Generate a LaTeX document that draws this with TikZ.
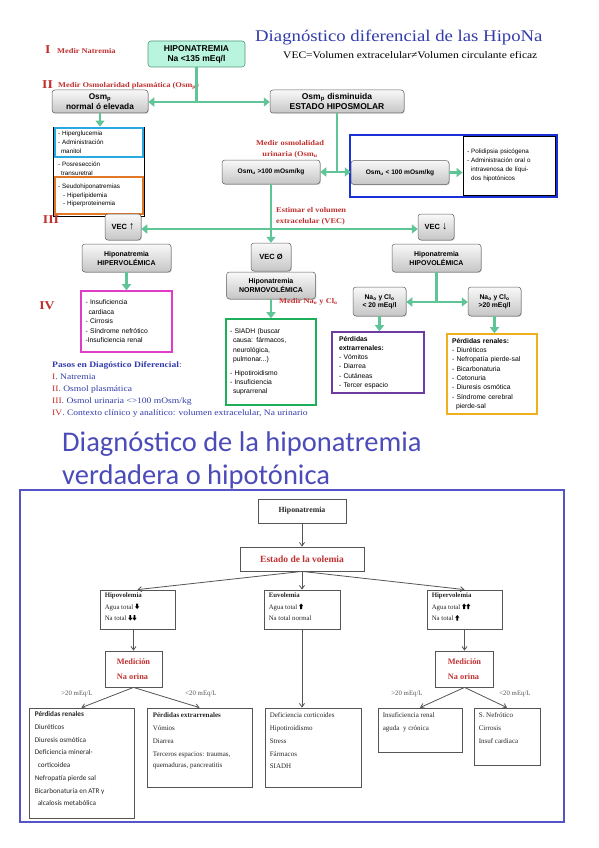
\documentclass[tikz,border=0pt]{standalone}
\usepackage{fontspec}
\setmainfont{Liberation Serif}
\setsansfont{Liberation Sans}
\newfontfamily\wser[FakeStretch=1.15]{Liberation Serif}
\newfontfamily\calib{Carlito}
\usetikzlibrary{arrows.meta,calc,shadows}
\definecolor{grn}{RGB}{95,196,150}
\definecolor{mint}{RGB}{185,245,222}
\definecolor{redc}{RGB}{192,48,48}
\definecolor{bluet}{RGB}{50,60,170}
\definecolor{cyanb}{RGB}{40,170,225}
\definecolor{orng}{RGB}{225,120,40}
\definecolor{magb}{RGB}{225,60,200}
\definecolor{grnb}{RGB}{30,175,90}
\definecolor{purb}{RGB}{110,60,160}
\definecolor{goldb}{RGB}{240,175,30}
\definecolor{blueb}{RGB}{25,50,215}
\definecolor{frameb}{RGB}{85,85,200}
\definecolor{titb}{RGB}{75,75,185}
\definecolor{darkg}{RGB}{85,85,85}
\newcommand{\fs}[2]{\fontsize{#1}{#2}\selectfont}
\newcommand{\dnar}{\tikz[baseline=0pt,x=1pt,y=1pt]\fill[black] (1.2,5.5)--(3.0,5.5)--(3.0,2.6)--(4.2,2.6)--(2.1,0)--(0,2.6)--(1.2,2.6)--cycle;}
\newcommand{\upar}{\tikz[baseline=0pt,x=1pt,y=1pt]\fill[black] (1.2,0)--(3.0,0)--(3.0,2.9)--(4.2,2.9)--(2.1,5.5)--(0,2.9)--(1.2,2.9)--cycle;}
\newcommand{\bigarr}[1]{{\fs{10.5}{10}\raisebox{-0.5pt}{#1}}}
\begin{document}
\begin{tikzpicture}[x=1pt,y=-1pt,
  gbox/.style={rectangle, rounded corners=3pt, draw=gray!75!black, line width=0.5pt, top color=gray!5, bottom color=gray!45, drop shadow={shadow xshift=0.9pt, shadow yshift=-0.9pt, opacity=0.3}, font=\sffamily\bfseries\fs{7.5}{9}, align=center, inner sep=0pt},
  garr/.style={draw=grn, line width=2.8pt, -{Triangle[length=6pt,width=9pt]}},
  gln/.style={draw=grn, line width=2.8pt},
  rtxt/.style={text=redc, font=\wser\bfseries\fs{7.3}{10.5}, inner sep=0pt},
  rnum/.style={text=redc, font=\wser\bfseries\fs{12}{12}, inner sep=0pt},
  cbox/.style={rectangle, line width=1.6pt, inner sep=0pt},
  ltxt/.style={font=\sffamily\fs{6.3}{8.8}, align=left, inner sep=0pt},
  wbox/.style={rectangle, draw=darkg, line width=0.8pt, fill=white, inner sep=0pt},
  btxt/.style={font=\fs{6.8}{11.5}, align=left, inner sep=0pt, text=black!85},
  barr/.style={draw=darkg, line width=0.8pt, -{Straight Barb[length=3.5pt,width=5pt]}},
  lbl/.style={font=\fs{6.8}{8}, text=darkg, inner sep=0pt}
]
\useasboundingbox (0,0) rectangle (599,848);
\fill[white] (0,0) rectangle (599,848);

% ---------------- top part ----------------
\node[rnum, anchor=west] (nI) at (45,50) {I};
\node[rtxt, anchor=west] (tI) at (57,51) {Medir Natremia};
\node[rectangle, rounded corners=3pt, draw=grn!80!black, line width=0.6pt, fill=mint, font=\sffamily\bfseries\fs{8.5}{10}, align=center, minimum width=97pt, minimum height=26pt, inner sep=0pt] (hipo) at (196.5,54) {HIPONATREMIA\\Na <135 mEq/l};
\node[anchor=west, text=bluet, font=\wser\fs{16.3}{18}, inner sep=0pt] (tit1) at (255,38) {Diagnóstico diferencial de las HipoNa};
\node[anchor=west, font=\wser\fs{10}{12}, inner sep=0pt] (vecdef) at (283,55) {VEC=Volumen extracelular≠Volumen circulante eficaz};

\node[rnum, anchor=west] (nII) at (42,85) {II};
\node[rtxt, anchor=west] (tII) at (58,86) {Medir Osmolaridad plasmática (Osm\textsubscript{p})};
\node[gbox, font=\sffamily\bfseries\fs{8.3}{9.5}, minimum width=96pt, minimum height=23pt] (osmn) at (100,101.5) {Osm\textsubscript{p}\\normal ó elevada};
\node[gbox, font=\sffamily\bfseries\fs{8.5}{9.5}, minimum width=134pt, minimum height=23pt] (osmd) at (337,101.5) {Osm\textsubscript{p} disminuida\\ESTADO HIPOSMOLAR};
\coordinate (j1) at (196.5,102);
\draw[gln] (hipo.south) -- (j1);
\draw[garr] (j1) -- (osmn.east |- j1);
\draw[garr] (j1) -- (osmd.west |- j1);

% list box
\node[rectangle, draw=black, line width=0.8pt, minimum width=91pt, minimum height=89pt, inner sep=0pt] (lst) at (98.5,171.5) {};
\node[cbox, draw=cyanb, minimum width=88pt, minimum height=29pt, ltxt, text width=82pt] (lstb) at (99,142.5) {- Hiperglucemia\\- Administración\\\hspace*{3pt}manitol};
\node[ltxt, text width=82pt] (lstm) at (99,168.5) {- Posresección\\\hspace*{3pt}transuretral};
\node[cbox, draw=orng, minimum width=88pt, minimum height=37pt, ltxt, text width=82pt] (lsto) at (99,195.5) {- Seudohiponatremias\\\hspace*{5pt}- Hiperlipidemia\\\hspace*{5pt}- Hiperproteinemia};
\draw[garr] (osmn.south) -- (osmn.south |- lst.north);

% urinary osmolality
\node[rtxt, align=center] (tmo) at (290,149) {Medir osmolalidad\\urinaria (Osm\textsubscript{u}};
\node[gbox, font=\sffamily\bfseries\fs{6.6}{8}, minimum width=98pt, minimum height=24pt] (osmu1) at (271,172) {Osm\textsubscript{u} >100 mOsm/kg};
\node[cbox, draw=blueb, line width=1.8pt, minimum width=207pt, minimum height=62pt] (bbig) at (453.5,166) {};
\node[gbox, font=\sffamily\bfseries\fs{6.6}{8}, minimum width=98pt, minimum height=24pt] (osmu2) at (400,172.5) {Osm\textsubscript{u} < 100 mOsm/kg};
\node[rectangle, draw=black, line width=0.8pt, fill=white, minimum width=92pt, minimum height=59pt, ltxt, text width=84pt] (wpol) at (509,165.5) {- Polidipsia psicógena\\- Administración oral o\\\hspace*{4pt}intravenosa de líqui-\\\hspace*{4pt}dos hipotónicos};
\coordinate (j2) at (337,172);
\draw[gln] (osmd.south) -- (j2);
\draw[garr] (j2) -- (osmu1.east |- j2);
\draw[garr] (j2) -- (osmu2.west |- j2);
\draw[garr] (osmu2.east) -- (wpol.west |- osmu2.east);

% VEC
\coordinate (j3) at (271,229);
\draw[gln] (osmu1.south) -- (j3);
\node[rtxt, anchor=west, align=left, font=\wser\bfseries\fs{7.3}{11}] (test) at (276,216) {Estimar el volumen\\extracelular (VEC)};
\node[gbox, minimum width=36pt, minimum height=26pt] (vecup) at (123,227) {VEC \bigarr{↑}};
\node[gbox, minimum width=36pt, minimum height=26pt] (vecdn) at (436,227) {VEC \bigarr{↓}};
\node[gbox, minimum width=40pt, minimum height=28pt] (vec0) at (271,257) {VEC Ø};
\draw[garr] (j3) -- (vecup.east |- j3);
\draw[garr] (j3) -- (vecdn.west |- j3);
\draw[garr] (j3) -- (vec0.north);

\node[rnum] (nIII) at (51,220) {III};
\node[rnum] (nIV) at (47,306) {IV};

% hypervolemic
\node[gbox, font=\sffamily\bfseries\fs{7}{9}, minimum width=89pt, minimum height=28pt] (hiper) at (126.5,258) {Hiponatremia\\HIPERVOLÉMICA};
\node[cbox, draw=magb, minimum width=91pt, minimum height=61pt, ltxt, font=\sffamily\fs{6.8}{9.5}, text width=82pt] (pink) at (126.5,321.5) {- Insuficiencia\\\hspace*{3pt}cardiaca\\- Cirrosis\\- Síndrome nefrótico\\-Insuficiencia renal};
\draw[garr] (hiper.south) -- (pink.north);

% normovolemic
\node[gbox, font=\sffamily\bfseries\fs{7}{9}, minimum width=89pt, minimum height=27pt] (normo) at (271,285.5) {Hiponatremia\\NORMOVOLÉMICA};
\node[rtxt, anchor=west] (tnacl) at (279,302) {Medir Na\textsubscript{o} y Cl\textsubscript{o}};
\node[cbox, draw=grnb, minimum width=90pt, minimum height=86pt, ltxt, font=\sffamily\fs{6.8}{9.2}, text width=82pt] (gbx) at (271,362) {- SIADH (buscar\\\hspace*{3pt}causa: fármacos,\\\hspace*{3pt}neurológica,\\\hspace*{3pt}pulmonar...)\\[5pt]- Hipotiroidismo\\- Insuficiencia\\\hspace*{3pt}suprarrenal};
\draw[garr] (normo.south) -- (gbx.north);

% hypovolemic
\node[gbox, font=\sffamily\bfseries\fs{7}{9}, minimum width=89pt, minimum height=28pt] (hipov) at (436.5,258) {Hiponatremia\\HIPOVOLÉMICA};
\coordinate (j4) at (436.5,302);
\node[gbox, font=\sffamily\bfseries\fs{6.8}{8.5}, minimum width=53pt, minimum height=29pt] (nalo) at (379.5,301.5) {Na\textsubscript{o} y Cl\textsubscript{o}\\< 20 mEq/l};
\node[gbox, font=\sffamily\bfseries\fs{6.8}{8.5}, minimum width=53pt, minimum height=29pt] (nahi) at (494.5,301.5) {Na\textsubscript{o} y Cl\textsubscript{o}\\>20 mEq/l};
\draw[gln] (hipov.south) -- (j4);
\draw[garr] (j4) -- (nalo.east |- j4);
\draw[garr] (j4) -- (nahi.west |- j4);
\node[cbox, draw=purb, minimum width=92pt, minimum height=61pt, ltxt, font=\sffamily\fs{6.8}{9.3}, text width=78pt] (purp) at (378,362.5) {\textbf{Pérdidas}\\\textbf{extrarrenales:}\\- Vómitos\\- Diarrea\\- Cutáneas\\- Tercer espacio};
\draw[garr] (nalo.south) -- (nalo.south |- purp.north);
\node[cbox, draw=goldb, minimum width=90pt, minimum height=80pt, ltxt, font=\sffamily\fs{6.8}{9.3}, text width=80pt] (gold) at (492,374) {\textbf{Pérdidas renales:}\\- Diuréticos\\- Nefropatía pierde-sal\\- Bicarbonaturia\\- Cetonuria\\- Diuresis osmótica\\- Síndrome cerebral\\\hspace*{4pt}pierde-sal};
\draw[garr] (nahi.south) -- (nahi.south |- gold.north);

% legend
\node[anchor=north west, align=left, text=bluet, font=\wser\fs{8.3}{12}, inner sep=0pt] (leg) at (52,361) {\textbf{Pasos en Diagóstico Diferencial}:\\\textcolor{redc}{I}. Natremia\\\textcolor{redc}{II}. Osmol plasmática\\\textcolor{redc}{III}. Osmol urinaria <>100 mOsm/kg\\\textcolor{redc}{IV}. Contexto clínico y analítico: volumen extracelular, Na urinario};

% ---------------- bottom part ----------------
\node[anchor=base west, text=titb, font=\calib\fs{28.5}{30}, inner sep=0pt] (t2a) at (62,451) {Diagnóstico de la hiponatremia};
\node[anchor=base west, text=titb, font=\calib\fs{28.5}{30}, inner sep=0pt] (t2b) at (62,484) {verdadera o hipotónica};
\node[rectangle, draw=frameb, line width=1.5pt, minimum width=544pt, minimum height=332pt, inner sep=0pt] (frame) at (292,656) {};

\node[wbox, minimum width=88pt, minimum height=24pt, font=\bfseries\fs{7.8}{9}, text=black!85] (bh) at (302,511) {Hiponatremia};
\node[wbox, minimum width=124pt, minimum height=24pt, font=\bfseries\fs{9.5}{11}, text=redc] (est) at (302,559) {Estado de la volemia};
\draw[barr] (bh.south) -- (est.north);

\node[wbox, minimum width=75pt, minimum height=39pt] (hv) at (137.5,609.5) {};
\node[btxt, anchor=north west] (hvt) at ([xshift=5pt,yshift=-3pt]hv.north west) {\textbf{Hipovolemia}\\Agua total \dnar\\Na total \dnar\dnar};
\node[wbox, minimum width=76pt, minimum height=39pt] (ev) at (302,609.5) {};
\node[btxt, anchor=north west] (evt) at ([xshift=5pt,yshift=-3pt]ev.north west) {\textbf{Euvolemia}\\Agua total \upar\\Na total normal};
\node[wbox, minimum width=75pt, minimum height=39pt] (hpv) at (464.5,609.5) {};
\node[btxt, anchor=north west] (hpvt) at ([xshift=5pt,yshift=-3pt]hpv.north west) {\textbf{Hipervolemia}\\Agua total \upar\upar\\Na total \upar};
\draw[barr] (est.south) -- (hv.north);
\draw[barr] (est.south) -- (ev.north);
\draw[barr] (est.south) -- (hpv.north);

\node[wbox, minimum width=57pt, minimum height=36pt, align=left, text=redc, font=\bfseries\fs{8.3}{15}] (m1) at (133.5,669) {Medición\\Na orina};
\draw[barr] (m1.north |- hv.south) -- (m1.north);
\node[wbox, minimum width=58pt, minimum height=36pt, align=left, text=redc, font=\bfseries\fs{8.3}{15}] (m2) at (464.5,669) {Medición\\Na orina};
\draw[barr] (hpv.south) -- (m2.north);

\node[lbl] (l1) at (77,694) {>20 mEq/L};
\node[lbl] (l2) at (201,694) {<20 mEq/L};
\node[lbl] (l3) at (407,694) {>20 mEq/L};
\node[lbl] (l4) at (515,694) {<20 mEq/L};

\node[wbox, minimum width=105pt, minimum height=110pt] (pr) at (81.5,763) {};
\node[anchor=north west, align=left, font=\calib\fs{7.2}{12.7}, inner sep=0pt, text=black!85] (prt) at ([xshift=6pt,yshift=-4pt]pr.north west) {\textbf{Pérdidas renales}\\Diuréticos\\Diuresis osmótica\\Deficiencia mineral-\\\hspace*{3pt}corticoidea\\Nefropatía pierde sal\\Bicarbonaturia en ATR y\\\hspace*{3pt}alcalosis metabólica};
\node[wbox, minimum width=105pt, minimum height=79pt] (pe) at (199.5,747.5) {};
\node[btxt, anchor=north west, font=\fs{7}{13}] (pet) at ([xshift=6pt,yshift=-5pt]pe.north west) {\textbf{Pérdidas extrarrenales}\\Vómios\\Diarrea\\Terceros espacios: traumas,\\[-2pt]quemaduras, pancreatitis};
\draw[barr] (m1.south) -- (pr.north);
\draw[barr] (m1.south) -- (pe.north);

\node[wbox, minimum width=96pt, minimum height=79pt] (et) at (313,747.5) {};
\node[btxt, anchor=north west, font=\fs{7}{13}] (ett) at ([xshift=5pt,yshift=-5pt]et.north west) {Deficiencia corticoides\\Hipotiroidismo\\Stress\\Fármacos\\[-1pt]SIADH};
\draw[barr] (ev.south) -- (ev.south |- et.north);

\node[wbox, minimum width=84pt, minimum height=44pt] (ir) at (420,730) {};
\node[btxt, anchor=north west, font=\fs{7}{13}] (irt) at ([xshift=5pt,yshift=-5pt]ir.north west) {Insuficiencia renal\\aguda\ \ y crónica};
\node[wbox, minimum width=66pt, minimum height=57pt] (sn) at (507,736.5) {};
\node[btxt, anchor=north west, font=\fs{7}{13}] (snt) at ([xshift=5pt,yshift=-5pt]sn.north west) {S. Nefrótico\\Cirrosis\\Insuf cardiaca};
\draw[barr] (m2.south) -- (ir.north);
\draw[barr] (m2.south) -- (sn.north);
\end{tikzpicture}
\end{document}
